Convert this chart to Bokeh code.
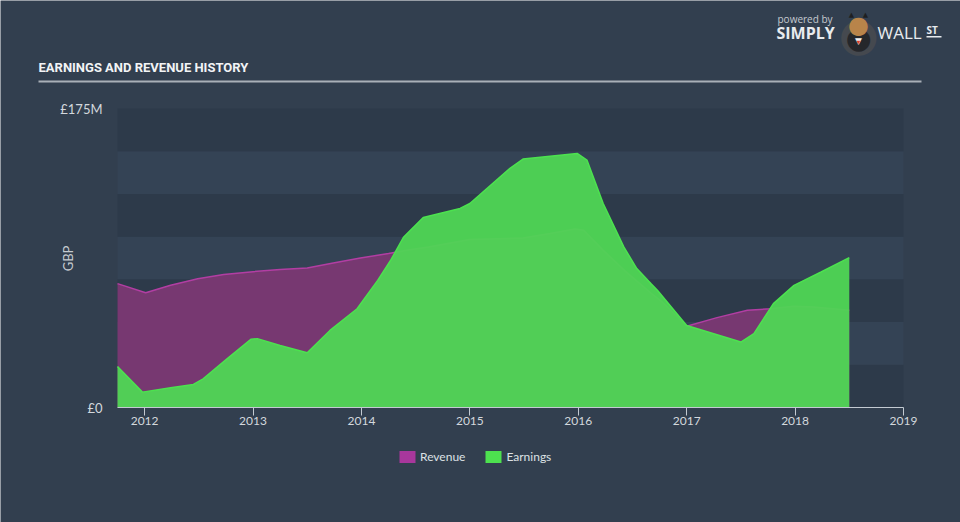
import math
from bokeh.plotting import figure
from bokeh.models import Range1d, FixedTicker, Label, BoxAnnotation, Legend, LegendItem
from bokeh.embed import file_html
from bokeh.resources import INLINE

# ---- data (GBP millions) ----
revenue_periods = [2011.75, 2012.01, 2012.24, 2012.49, 2012.73, 2013.0, 2013.25, 2013.5,
                   2013.74, 2013.99, 2014.25, 2014.42, 2014.62, 2015.0, 2015.49, 2015.74,
                   2015.97, 2016.05, 2016.23, 2016.43, 2016.67, 2016.77, 2017.0, 2017.28,
                   2017.56, 2017.77, 2017.99, 2018.17, 2018.5]
revenue = [72.5, 67.2, 71.5, 75.4, 77.8, 79.5, 80.7, 81.7,
           84.6, 87.5, 90.1, 92.0, 94.0, 98.3, 99.2, 101.8,
           104.5, 103.7, 92.0, 80.0, 67.0, 62.0, 47.5, 52.6,
           56.9, 57.8, 59.2, 58.8, 56.9]
earnings_periods = [2011.75, 2011.98, 2012.24, 2012.45, 2012.54, 2012.76, 2012.98, 2013.04,
                    2013.25, 2013.5, 2013.71, 2013.96, 2014.15, 2014.27, 2014.39, 2014.57,
                    2014.91, 2015.0, 2015.37, 2015.49, 2015.74, 2015.99, 2016.08, 2016.23,
                    2016.42, 2016.54, 2016.67, 2016.73, 2017.0, 2017.25, 2017.5, 2017.62,
                    2017.8, 2017.99, 2018.24, 2018.5]
earnings = [24.0, 9.0, 11.5, 13.5, 16.8, 28.5, 39.9, 40.3,
            36.3, 32.0, 45.1, 57.8, 74.4, 86.2, 99.8, 111.2,
            116.5, 119.4, 140.0, 145.4, 147.1, 148.7, 144.8, 119.4,
            94.0, 81.3, 72.5, 68.6, 48.0, 43.2, 38.3, 43.2,
            60.8, 71.5, 79.3, 87.7]
year_ticks = [2012, 2013, 2014, 2015, 2016, 2017, 2018, 2019]
y_ticks = [0, 175]
y_tick_labels = {0: "£0", 175: "£175M"}
band_ticks = [0, 25, 50, 75, 100, 125, 150, 175]
series_names = ["Revenue", "Earnings"]

OUTER = "#323f4f"
DARK = "#2d3a4a"
LIGHT = "#344355"
TEXT = "#d3d8dd"

# ---- layout (canvas pixels); the frame covers the whole canvas ----
W, H = 960, 522
PLOT_L, PLOT_R, PLOT_T, PLOT_B = 117, 903, 108, 407
x_min, x_max = revenue_periods[0], year_ticks[-1]
y_max = band_ticks[-1]
px_year = (PLOT_R - PLOT_L) / (x_max - x_min)
px_unit = (PLOT_B - PLOT_T) / y_max
x_start = x_min - PLOT_L / px_year
x_end = x_max + (W - PLOT_R) / px_year
y_start = -(H - PLOT_B) / px_unit
y_end = PLOT_B / px_unit


def sx(cx):
    return cx


def sy(cy):
    return H - cy


p = figure(width=W, height=H, title=None,
           x_range=Range1d(x_start, x_end), y_range=Range1d(y_start, y_end),
           min_border_left=0, min_border_right=0,
           min_border_top=0, min_border_bottom=0,
           output_backend="svg", toolbar_location=None,
           background_fill_color=OUTER, border_fill_color=OUTER,
           outline_line_color=None)
p.grid.visible = False

# background bands of the plot area
n_bands = len(band_ticks) - 1
band_colors = [DARK if i % 2 == 0 else LIGHT for i in range(n_bands)]
p.quad(left=[x_min] * n_bands, right=[x_max] * n_bands,
       bottom=band_ticks[:-1], top=band_ticks[1:], fill_color=band_colors,
       line_color=None)

# x axis, drawn at y = 0
p.xaxis.fixed_location = 0
p.xaxis.ticker = FixedTicker(ticks=year_ticks)
p.xaxis.bounds = (x_min, x_max)
p.xaxis.axis_line_color = "#c3cad2"
p.xaxis.major_tick_line_color = "#c3cad2"
p.xaxis.major_tick_out = 8
p.xaxis.major_tick_in = 0
p.xaxis.minor_tick_line_color = None
p.xaxis.major_label_standoff = 1
p.xaxis.major_label_text_font = "Lato"
p.xaxis.major_label_text_font_size = "12px"
p.xaxis.major_label_text_color = TEXT

# y axis, drawn at the left edge of the data area
p.yaxis.fixed_location = x_min
p.yaxis.ticker = FixedTicker(ticks=y_ticks)
p.yaxis.major_label_overrides = y_tick_labels
p.yaxis.axis_line_color = None
p.yaxis.major_tick_line_color = None
p.yaxis.minor_tick_line_color = None
p.yaxis.major_tick_out = 0
p.yaxis.major_tick_in = 0
p.yaxis.major_label_standoff = 15
p.yaxis.major_label_text_font = "Lato"
p.yaxis.major_label_text_font_size = "13px"
p.yaxis.major_label_text_color = TEXT

# areas
p.varea(x=revenue_periods, y1=0, y2=revenue, fill_color="#7b3873", fill_alpha=0.95)
p.line(revenue_periods, revenue, line_color="#b23ea3", line_width=1.5)
p.varea(x=earnings_periods, y1=0, y2=earnings, fill_color="#4fd654", fill_alpha=0.95)
p.line(earnings_periods, earnings, line_color="#4ce24f", line_width=1.5)

# legend: zero-size boxes used only as swatches
sw_rev = p.quad(left=[x_min], right=[x_min], bottom=[0], top=[0],
                fill_color="#a8379c", line_color=None)
sw_earn = p.quad(left=[x_min], right=[x_min], bottom=[0], top=[0],
                 fill_color="#4de14f", line_color=None)
legend = Legend(items=[LegendItem(label=series_names[0], renderers=[sw_rev]),
                       LegendItem(label=series_names[1], renderers=[sw_earn])],
                orientation="horizontal", location=(sx(397), sy(463.5)))
legend.background_fill_alpha = 0
legend.border_line_alpha = 0
legend.padding = 0
legend.margin = 0
legend.spacing = 18
legend.label_standoff = 3
legend.glyph_width = 20
legend.glyph_height = 15
legend.label_height = 12
legend.label_text_font = "Lato"
legend.label_text_font_size = "12px"
legend.label_text_color = "#dde1e5"
legend.label_text_baseline = "middle"
p.add_layout(legend)

# title and underline
p.add_layout(Label(x=sx(38), y=sy(67), x_units="screen", y_units="screen",
                   text="EARNINGS AND REVENUE HISTORY",
                   text_font="Roboto", text_font_style="bold",
                   text_font_size="13px", text_color="#f2f4f6",
                   text_baseline="middle", text_align="left"))
p.add_layout(BoxAnnotation(left=sx(38), right=sx(921), top=sy(80), bottom=sy(82),
                           left_units="screen", right_units="screen",
                           top_units="screen", bottom_units="screen",
                           fill_color="#a9b0b8", fill_alpha=1, line_color=None))

# y axis name
p.add_layout(Label(x=sx(67), y=sy(258), x_units="screen", y_units="screen", text="GBP",
                   angle=math.pi / 2, text_font="Lato", text_font_size="13px",
                   text_color="#c5cad0", text_align="center", text_baseline="middle"))

# logo
def logo_text(cx, cy, text, size, color="#e8ebee", font="Open Sans", style="normal",
              align="left"):
    p.add_layout(Label(x=sx(cx), y=sy(cy), x_units="screen", y_units="screen", text=text,
                       text_font=font, text_font_style=style, text_font_size=size,
                       text_color=color, text_baseline="middle", text_align=align))


logo_text(777, 18, "powered by", "10px", color="#c5cad0")
logo_text(776, 32, "SIMPLY", "16px", style="bold")
logo_text(858, 33, "●", "46px", color="#45494f", font="DejaVu Sans", align="center")
logo_text(858, 37, "●", "30px", color="#25272b", font="DejaVu Sans", align="center")
logo_text(858, 24, "●", "24px", color="#b8844a", font="DejaVu Sans", align="center")
logo_text(851, 14, "▲", "7px", color="#1e1f22", font="DejaVu Sans", align="center")
logo_text(865, 14, "▲", "7px", color="#1e1f22", font="DejaVu Sans", align="center")
logo_text(858, 40, "▼", "9px", color="#f1f1f1", font="DejaVu Sans", align="center")
logo_text(858, 41, "▼", "5px", color="#d9412b", font="DejaVu Sans", align="center")
logo_text(877, 32, "WALL", "17px")
logo_text(926, 29, "ST", "10px", style="bold")
p.add_layout(BoxAnnotation(left=sx(926), right=sx(941), top=sy(35.5), bottom=sy(37),
                           left_units="screen", right_units="screen",
                           top_units="screen", bottom_units="screen",
                           fill_color="#e8ebee", fill_alpha=1, line_color=None))

open("out.html", "w").write(file_html(p, INLINE))
